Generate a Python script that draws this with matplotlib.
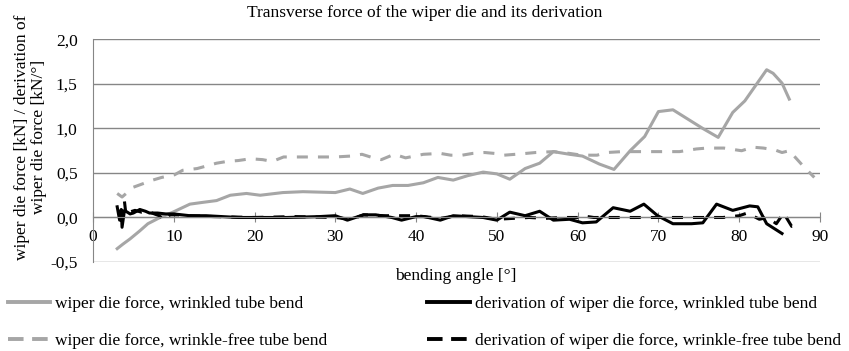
import matplotlib
matplotlib.use("Agg")
import matplotlib.pyplot as plt
from matplotlib.lines import Line2D
from matplotlib.ticker import FuncFormatter, MultipleLocator

plt.rcParams["font.family"] = ["Liberation Serif", "DejaVu Serif"]

# wiper die force, wrinkled tube bend [kN]
angle_wr = [3, 3.7, 4.6, 5.8, 6.8, 8.3, 9.9, 12, 13.6, 15.3, 17, 19, 20.7, 23.5, 26, 30,
            31.8, 33.4, 35.3, 37.1, 39, 40.9, 42.7, 44.6, 46.4, 48.3, 50, 51.6, 53.5, 55.3,
            57, 59, 60.6, 62.7, 64.5, 66.5, 68.3, 70, 71.8, 75.5, 77.4, 79.2, 80.7, 83.4,
            84.2, 85.3, 86.2]
force_wr = [-0.35, -0.30, -0.24, -0.15, -0.07, 0.0, 0.06, 0.15, 0.17, 0.19, 0.25, 0.27, 0.25,
            0.28, 0.29, 0.28, 0.32, 0.27, 0.33, 0.36, 0.36, 0.39, 0.45, 0.42, 0.47, 0.51, 0.49,
            0.43, 0.55, 0.61, 0.74, 0.71, 0.69, 0.60, 0.54, 0.75, 0.91, 1.19, 1.21, 1.00, 0.90,
            1.18, 1.31, 1.66, 1.62, 1.51, 1.33]

# wiper die force, wrinkle-free tube bend [kN]
angle_wf = [3, 3.6, 5, 6.2, 7.4, 8.5, 10.1, 11.1, 12.9, 14.1, 15.3, 16.6, 18, 19.5, 21, 22.2,
            23.6, 25, 27, 30, 31.9, 33.3, 34.7, 35.7, 37.3, 38.7, 40.9, 43, 44.3, 45.7, 47,
            48.5, 49.7, 50.9, 52.3, 53.6, 54.8, 57, 59, 60.5, 62.4, 63.6, 65.5, 68, 70, 72.6,
            74.7, 76, 78.1, 80.3, 81.7, 83, 84.4, 85.3, 86.2, 87.9, 89.3]
force_wf = [0.27, 0.23, 0.34, 0.38, 0.42, 0.45, 0.48, 0.53, 0.55, 0.58, 0.61, 0.63, 0.64, 0.66,
            0.65, 0.63, 0.68, 0.68, 0.68, 0.68, 0.69, 0.71, 0.67, 0.65, 0.71, 0.67, 0.71, 0.72,
            0.70, 0.70, 0.72, 0.73, 0.72, 0.70, 0.71, 0.72, 0.73, 0.74, 0.72, 0.70, 0.70, 0.73,
            0.74, 0.74, 0.74, 0.74, 0.77, 0.78, 0.78, 0.75, 0.79, 0.78, 0.76, 0.73, 0.75, 0.58,
            0.45]

# derivation of wiper die force, wrinkled tube bend [kN/deg]
angle_dwr = [3, 3.3, 3.5, 3.6, 3.9, 4.6, 5, 5.8, 6.5, 7, 8, 9, 10, 11, 12, 14, 16, 18, 20, 24,
             28, 30, 31.5, 32.5, 33.5, 35, 37, 38.2, 40, 41, 43, 44.6, 46.4, 48.3, 50, 51.6,
             53.5, 55.3, 57, 59, 60.6, 62.3, 64.4, 66.5, 68.2, 69.9, 71.8, 74.1, 75.5, 77.2,
             79.2, 81.3, 82.3, 83.4, 85.3]
deriv_wr = [0.12, -0.03, 0.09, -0.11, 0.08, 0.04, 0.05, 0.09, 0.07, 0.05, 0.05, 0.04, 0.04,
            0.03, 0.02, 0.02, 0.01, 0.0, 0.0, 0.0, 0.01, 0.02, -0.03, 0.0, 0.03, 0.03, 0.0,
            -0.03, 0.01, 0.01, -0.03, 0.02, 0.01, 0.0, -0.03, 0.06, 0.02, 0.07, -0.03, -0.02,
            -0.06, -0.05, 0.11, 0.07, 0.15, 0.02, -0.07, -0.07, -0.06, 0.15, 0.08, 0.13, 0.12,
            -0.07, -0.18]

# derivation of wiper die force, wrinkle-free tube bend [kN/deg]
angle_dwf = [3.9, 4.1, 4.5, 5.2, 6, 6.8, 7.6, 8.2, 8.8, 9.5, 10.5, 12, 15, 20, 25, 30, 32,
             33.5, 36, 40, 43, 45, 48, 50, 52, 54, 56, 58, 60, 60.5, 62, 65, 70, 75, 78, 80,
             81, 82.5, 83.5, 84.6, 85.5, 86.5, 87.5]
deriv_wf = [0.18, 0.02, 0.06, 0.08, 0.06, 0.07, 0.04, 0.02, -0.03, 0.03, 0.03, 0.02, 0.01,
            0.0, 0.01, 0.0, -0.02, 0.03, 0.02, 0.02, -0.01, 0.02, 0.01, -0.02, -0.01, 0.0,
            -0.01, 0.0, 0.0, 0.02, 0.0, 0.0, 0.0, 0.0, 0.0, 0.02, 0.05, -0.02, 0.0, -0.07,
            0.05, -0.1, -0.08]

labels = ["wiper die force, wrinkled tube bend",
          "wiper die force, wrinkle-free tube bend",
          "derivation of wiper die force, wrinkled tube bend",
          "derivation of wiper die force, wrinkle-free tube bend"]

GRAY = "#a6a6a6"
GRID = "#868686"
LW = 2.2
DASH = (3.6, 3.3)
FS = 12.5

fig = plt.figure(figsize=(8.49, 3.51), dpi=100)
ax = fig.add_axes([0.1095, 0.2536, 0.8563, 0.6339])

ax.plot(angle_wr, force_wr, color=GRAY, lw=LW, solid_joinstyle="round")
ax.plot(angle_wf, force_wf, color=GRAY, lw=LW, dashes=DASH)
ax.plot(angle_dwr, deriv_wr, color="black", lw=LW, solid_joinstyle="round")
ax.plot(angle_dwf, deriv_wf, color="black", lw=LW, dashes=DASH)

ax.set_xlim(0, 90)
ax.set_ylim(-0.5, 2.0)
ax.xaxis.set_major_locator(MultipleLocator(10))
ax.yaxis.set_major_locator(MultipleLocator(0.5))
ax.yaxis.set_major_formatter(FuncFormatter(lambda v, p: f"{v:.1f}".replace(".", ",")))
ax.grid(axis="y", color=GRID, lw=1)
ax.set_axisbelow(True)

ax.spines[["top", "right"]].set_visible(False)
ax.spines["left"].set_color(GRID)
ax.spines["bottom"].set_position(("data", 0))
ax.spines["bottom"].set_color(GRID)
ax.tick_params(axis="x", direction="inout", length=7, color=GRID, pad=5, labelsize=FS)
ax.tick_params(axis="y", length=0, pad=11, labelsize=FS)

fig.text(0.5, 0.963, "Transverse force of the wiper die and its derivation",
         ha="center", va="center", fontsize=FS)
fig.text(0.036, 0.61, "wiper die force [kN] / derivation of\nwiper die force [kN/°]",
         rotation=90, ha="center", va="center", fontsize=FS, linespacing=1.15)
fig.text(0.537, 0.214, "bending angle [°]", ha="center", va="center", fontsize=FS)

# legend proxies (Excel draws the legend dashes a bit longer)
h1 = Line2D([], [], color=GRAY, lw=LW + 0.6)
h2 = Line2D([], [], color=GRAY, lw=LW + 0.6, dashes=(4.0, 2.2))
h3 = Line2D([], [], color="black", lw=LW + 0.6)
h4 = Line2D([], [], color="black", lw=LW + 0.6, dashes=(4.0, 2.2))

leg_kw = dict(frameon=False, fontsize=FS, handlelength=2.45, handletextpad=0.3,
              labelspacing=1.22, borderpad=0, borderaxespad=0, loc="upper left")
fig.legend(handles=[h1, h2], labels=labels[:2], bbox_to_anchor=(0.009, 0.157), **leg_kw)
fig.legend(handles=[h3, h4], labels=labels[2:], bbox_to_anchor=(0.503, 0.157), **leg_kw)

fig.savefig("out.png", dpi=100)
